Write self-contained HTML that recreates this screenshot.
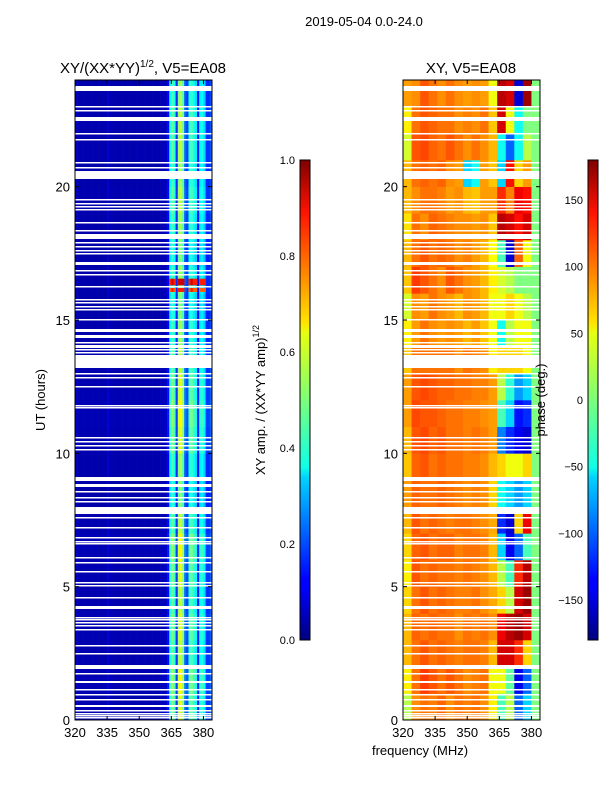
<!DOCTYPE html>
<html><head><meta charset="utf-8"><style>
body{margin:0;background:#fff;}
svg text{font-family:"Liberation Sans",sans-serif;fill:#000;}
</style></head><body>
<svg id="fig" width="600" height="800" xmlns="http://www.w3.org/2000/svg">
<defs>
<linearGradient id="jet" x1="0" y1="1" x2="0" y2="0">
<stop offset="0" stop-color="#00007f"/><stop offset="0.11" stop-color="#0000ff"/><stop offset="0.125" stop-color="#0000ff"/>
<stop offset="0.34" stop-color="#00d4ff"/><stop offset="0.36" stop-color="#0fffe7"/><stop offset="0.5" stop-color="#7cff79"/>
<stop offset="0.64" stop-color="#e7ff0f"/><stop offset="0.66" stop-color="#ffe500"/><stop offset="0.89" stop-color="#ff1300"/>
<stop offset="1" stop-color="#7f0000"/></linearGradient>
</defs>
<text x="364" y="26" font-size="13" text-anchor="middle">2019-05-04 0.0-24.0</text>
<text x="143" y="73" font-size="15" text-anchor="middle">XY/(XX*YY)<tspan font-size="10" dy="-6">1/2</tspan><tspan dy="6">, V5=EA08</tspan></text>
<text x="471" y="73" font-size="15" text-anchor="middle">XY, V5=EA08</text>
<g id="ampPanel"></g>
<g id="phPanel"></g>
<g id="axes"></g>
<text transform="translate(45,400) rotate(-90)" font-size="13" text-anchor="middle">UT (hours)</text>
<text x="420" y="755" font-size="13" text-anchor="middle">frequency (MHz)</text>
<rect x="300" y="160" width="10" height="480" fill="url(#jet)" stroke="#000" stroke-width="1"/>
<rect x="588" y="160" width="10" height="480" fill="url(#jet)" stroke="#000" stroke-width="1"/>
<text transform="translate(265,400) rotate(-90)" font-size="13" text-anchor="middle">XY amp. / (XX*YY amp)<tspan font-size="9" dy="-6">1/2</tspan></text>
<text transform="translate(545,400) rotate(-90)" font-size="13" text-anchor="middle">phase (deg.)</text>
</svg>
<script>
// ---- data ----
const freqEdges = [320, 384];
const timeRange = [0, 24];
const xTicks = [320, 335, 350, 365, 380];
const yTicks = [0, 5, 10, 15, 20];
const ampTicks = [0.0, 0.2, 0.4, 0.6, 0.8, 1.0];
const phaseTicks = [-150, -100, -50, 0, 50, 100, 150];
// amplitude per 1-MHz channel (320..383)
const colAmp = [0.06,0.05,0.05,0.05,0.05,0.05,0.05,0.05,0.05,0.05,0.05,0.05,0.05,0.05,0.05,0.08,0.05,0.05,0.05,0.05,
0.05,0.05,0.05,0.05,0.05,0.05,0.05,0.05,0.05,0.05,0.05,0.05,0.05,0.05,0.05,0.05,0.05,0.05,0.05,0.05,
0.06,0.06,0.07,0.14,0.42,0.50,0.44,0.18,0.56,0.60,0.52,0.24,0.20,0.44,0.48,0.42,0.38,0.16,0.40,0.42,
0.36,0.18,0.18,0.22];
// amplitude scale per hour (0..23)
const rowScale = [1.0,1.05,0.95,1.0,0.95,1.0,1.05,0.95,0.85,0.9,1.0,1.05,1.0,0.95,0.9,0.85,0.9,0.85,0.9,0.95,0.9,0.95,0.95,0.9];
// hot rows [start h, end h, amp]
const hotRows = [[16.3,16.55,0.92],[16.05,16.2,0.85]];
// flagged (white) intervals in hours
const gaps = [[23.58,23.77],[22.98,23.02],[22.83,22.87],[22.46,22.61],[21.97,22.01],[21.75,21.79],[20.90,20.94],[20.71,20.75],[20.28,20.59],
[19.48,19.52],[19.33,19.37],[19.25,19.29],[19.14,19.18],[18.65,18.69],[18.35,18.39],[18.04,18.22],[17.87,17.91],[17.75,17.79],[17.60,17.64],
[17.49,17.53],[17.06,17.17],[16.85,16.89],[16.70,16.74],[16.22,16.26],[15.73,15.77],[15.62,15.66],[15.47,15.51],[15.36,15.40],
[14.98,15.02],[14.55,14.67],[14.32,14.44],[14.12,14.16],[13.95,14.06],[13.86,13.90],[13.75,13.79],[13.20,13.69],[12.99,13.03],[12.84,12.88],
[12.50,12.54],[11.79,11.83],[11.68,11.72],[10.59,10.63],[10.41,10.45],[10.29,10.33],[10.14,10.18],[8.96,9.11],[8.74,8.85],[8.53,8.57],
[8.34,8.38],[8.19,8.23],[7.72,7.99],[7.59,7.63],[7.18,7.22],[6.84,6.88],[6.66,6.70],[6.58,6.62],[6.09,6.13],[5.87,5.91],[5.53,5.57],
[5.12,5.16],[5.04,5.08],[4.56,4.60],[4.16,4.27],[3.84,3.88],[3.73,3.77],[3.62,3.66],[3.51,3.55],[3.36,3.40],[2.76,2.80],[2.49,2.53],
[1.91,2.06],[1.74,1.78],[1.39,1.46],[1.11,1.15],[0.92,0.96],[0.73,0.77],[0.49,0.56],[0.32,0.36],[0.21,0.25],[0.13,0.17],[0.06,0.10]];
// phase (deg) per hour row (0..23) x 4-MHz column (320..380)
const phase = [
[ 20, 85, 95, 90,100, 85, 95, 90, 95, 85, 50, -20, 20,-100,-60,  0],
[ 50, 95,115,105, 95,105, 95, 85, 90, 95, 40,  40,-10,-140,-100, 0],
[ 70, 95,105, 95,100, 95, 90, 95, 95, 90, 70, 150,150, 120, 60,  0],
[ 70,100, 95,100, 95, 95, 85, 95, 90, 95, 85, 140,160, 170,150,  0],
[ 60, 95,105, 95,100, 95, 90, 90, 95, 85, 75,  60, 20, 150,170,  0],
[ 50,105, 95,100, 95, 95, 90, 95, 90, 85, 70,  20,-20, 120,160,  0],
[ 60,100,105, 95,100,100, 90, 95, 95, 90, 70, -60,-140,-100,-20, 0],
[ 70,105, 95,100, 95, 90, 95, 95, 90, 85, 75,-120,-150, 60,140,  0],
[ 80,100, 95, 95,100, 95, 90, 85, 90, 85, 60, -40,-60, -80, -60, 0],
[ 65,100,105, 95,100, 95, 95, 90, 90, 85, 70,  60, 40,  40, 60,  0],
[ 70,105,110,100,105, 95, 95, 90, 95, 90, 80, -90,-120,-140,-150,0],
[ 80,110,105,105,100, 95, 95, 90, 90, 85, 80, -20,-60,-130,-120, 0],
[ 80,105,110,105,100,100, 95, 95, 90, 90, 80,  20, -30, -80, -60, 0],
[ 65, 95, 95, 95, 95, 95, 85, 95, 90, 85, 50,  60, 60,  60, 40,  0],
[ 50, 80, 95, 85, 80, 85, 80, 70, 80, 65, 40, -40, 20,  40, 40,  0],
[ 30, 85, 80, 95, 85, 80, 70, 85, 80, 70, 40,  40, 60,  40, 20,  0],
[ 65,115,105, 95, 85,105, 95, 85, 80, 70, 50,  30, 20,   0,  0,  0],
[ 70, 95,105, 95,100, 95, 85, 90, 80, 70, 45, -20,-150, 100, 40, 0],
[ 55, 95, 85,100, 95, 90, 85, 85, 80, 85, 65, 160,150, 130,150,  0],
[ 70, 85, 95, 95, 90, 80, 85, 70, 65, 80, 80, 120, 90, 140,130,  0],
[ 70, 95,100, 95,100, 85, 80,-60,-40, 80, 65, -60,130,  60, 80,  0],
[ 30,105,110,100, 95,105, 95, 85, 95, 85, 70, -40,-100, -40, 20,  0],
[ 50, 95,105,100, 95, 95, 85, 90, 85, 95, 65, 150, 40, -40,  0,  0],
[ 80, 85,105, 95, 85, 95, 85, 80, 85, 80, 40, 160,150,-150,170,  0]
];
// ---- rendering ----
const NS='http://www.w3.org/2000/svg';
function jet(v){v=Math.max(0,Math.min(1,v));
 const r=Math.min(4*v-1.5,-4*v+4.5),g=Math.min(4*v-0.5,-4*v+3.5),b=Math.min(4*v+0.5,-4*v+2.5);
 const c=x=>Math.round(255*Math.max(0,Math.min(1,x)));return `rgb(${c(r)},${c(g)},${c(b)})`;}
function mk(tag,attrs,parent){const e=document.createElementNS(NS,tag);for(const k in attrs)e.setAttribute(k,attrs[k]);parent.appendChild(e);return e;}
const Y0=80,Y1=720;
function yScale(h){return Y1-(h-timeRange[0])/(timeRange[1]-timeRange[0])*(Y1-Y0);}
function xScaleFor(x0,x1){return f=>x0+(f-freqEdges[0])/(freqEdges[1]-freqEdges[0])*(x1-x0);}
const xA=xScaleFor(75,212), xP=xScaleFor(403,540);
const ampG=document.getElementById('ampPanel'), phG=document.getElementById('phPanel');
const nCh=colAmp.length, chW=(freqEdges[1]-freqEdges[0])/nCh;
for(let r=0;r<rowScale.length;r++){
 for(let c=0;c<nCh;c++){
  const f=freqEdges[0]+c*chW;
  const el=mk('rect',{x:xA(f),y:yScale(r+1),width:xA(f+chW)-xA(f)+0.3,height:yScale(r)-yScale(r+1)+0.3,fill:jet(colAmp[c]*rowScale[r])},ampG);
  
  
 }
}
hotRows.forEach(hr=>{
 for(let c=0;c<nCh;c++){
  const f=freqEdges[0]+c*chW; if(colAmp[c]<0.3)continue;
  const el=mk('rect',{x:xA(f),y:yScale(hr[1]),width:xA(f+chW)-xA(f)+0.3,height:yScale(hr[0])-yScale(hr[1]),fill:jet(hr[2]*(colAmp[c]>0.45?1:0.92))},ampG);
  
  
 }
});
const nPc=phase[0].length, pW=(freqEdges[1]-freqEdges[0])/nPc;
for(let r=0;r<phase.length;r++){
 for(let c=0;c<nPc;c++){
  const f=freqEdges[0]+c*pW;
  const el=mk('rect',{x:xP(f),y:yScale(r+1),width:xP(f+pW)-xP(f)+0.3,height:yScale(r)-yScale(r+1)+0.3,fill:jet((phase[r][c]+180)/360)},phG);
  
  
 }
}
[[ampG,75,212],[phG,403,540]].forEach(([g,x0,x1])=>{
 gaps.forEach(gp=>{
  const yt=Math.round(yScale(gp[1]));
  const h=Math.max(1.5,Math.round(yScale(gp[0])-yScale(gp[1])));
  const el=mk('rect',{x:x0,y:yt,width:x1-x0,height:h,fill:'#fff'},g);
  
  
 });
});
const ax=document.getElementById('axes');
[[75,212,xA],[403,540,xP]].forEach(([x0,x1,xs])=>{
 mk('rect',{x:x0,y:Y0,width:x1-x0,height:Y1-Y0,fill:'none',stroke:'#000','stroke-width':1},ax);
 xTicks.forEach(t=>{const x=xs(t);
  mk('line',{x1:x,x2:x,y1:Y1,y2:Y1-4,stroke:'#000'},ax);mk('line',{x1:x,x2:x,y1:Y0,y2:Y0+4,stroke:'#000'},ax);
  const tx=mk('text',{x:x,y:Y1+17,'font-size':13,'text-anchor':'middle'},ax);tx.textContent=t;
  
  
 });
 yTicks.forEach(t=>{const y=yScale(t);
  mk('line',{x1:x0,x2:x0+4,y1:y,y2:y,stroke:'#000'},ax);mk('line',{x1:x1,x2:x1-4,y1:y,y2:y,stroke:'#000'},ax);
  const tx=mk('text',{x:x0-5,y:y+5,'font-size':13,'text-anchor':'end'},ax);tx.textContent=t;
  
  
 });
});
ampTicks.forEach(t=>{const y=640-t*480;
 mk('line',{x1:300,x2:304,y1:y,y2:y,stroke:'#000'},ax);mk('line',{x1:310,x2:306,y1:y,y2:y,stroke:'#000'},ax);
 const tx=mk('text',{x:295,y:y+4,'font-size':11,'text-anchor':'end'},ax);tx.textContent=t.toFixed(1);
 
 
});
phaseTicks.forEach(t=>{const y=640-(t+180)/360*480;
 mk('line',{x1:588,x2:592,y1:y,y2:y,stroke:'#000'},ax);mk('line',{x1:598,x2:594,y1:y,y2:y,stroke:'#000'},ax);
 const tx=mk('text',{x:583,y:y+4,'font-size':11,'text-anchor':'end'},ax);tx.textContent=t<0?'\u2212'+(-t):t;
 
 
});
</script>
</body></html>
